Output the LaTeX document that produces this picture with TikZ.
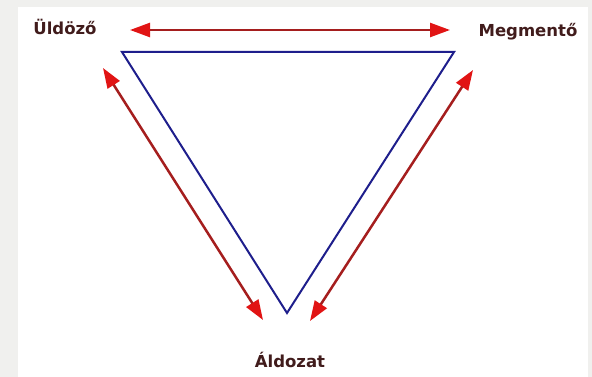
\documentclass[tikz,border=0pt]{standalone}
\usepackage{fontspec}
\setmainfont{DejaVu Sans}
\usetikzlibrary{arrows.meta}
\definecolor{cside}{RGB}{30,30,140}
\definecolor{cshaft}{RGB}{165,30,30}
\definecolor{ctip}{RGB}{225,20,20}
\definecolor{crole}{RGB}{65,28,28}
\definecolor{cback}{RGB}{240,240,238}
\tikzset{
  role/.style={font=\bfseries\fontsize{16.5}{19}\selectfont, text=crole, inner sep=0pt, anchor=base},
  swap/.style={cshaft, line width=2.5pt,
    {Triangle[length=20pt,width=14pt,color=ctip]}-{Triangle[length=20pt,width=14pt,color=ctip]}}
}

\begin{document}
\begin{tikzpicture}[x=1pt,y=-1pt]
    \useasboundingbox (0,0) rectangle (592,377);
    \fill[cback] (0,0) rectangle (592,377);
    \fill[white] (18,7) rectangle (588,377);
    % drama triangle
    \coordinate (pers) at (122,52);
    \coordinate (resc) at (454,52);
    \coordinate (vict) at (287,313);
    \draw[cside, line width=2pt, line join=miter] (pers) -- (resc) -- (vict) -- cycle;
    % roles
    \node[role] (uldozo) at (65,35) {Üldöző};
    \node[role] (megmento) at (528,37) {Megmentő};
    \node[role] (aldozat) at (290,367) {Áldozat};
    % role switches
    \coordinate (topL) at (130,30);
    \coordinate (topR) at (450,30);
    \coordinate (leftT) at (103,68);
    \coordinate (leftB) at (263,320);
    \coordinate (rightT) at (473,70);
    \coordinate (rightB) at (310,321);
    \draw[swap] (topL) -- (topR);
    \draw[swap] (leftT) -- (leftB);
    \draw[swap] (rightT) -- (rightB);
  \end{tikzpicture}
\end{document}
